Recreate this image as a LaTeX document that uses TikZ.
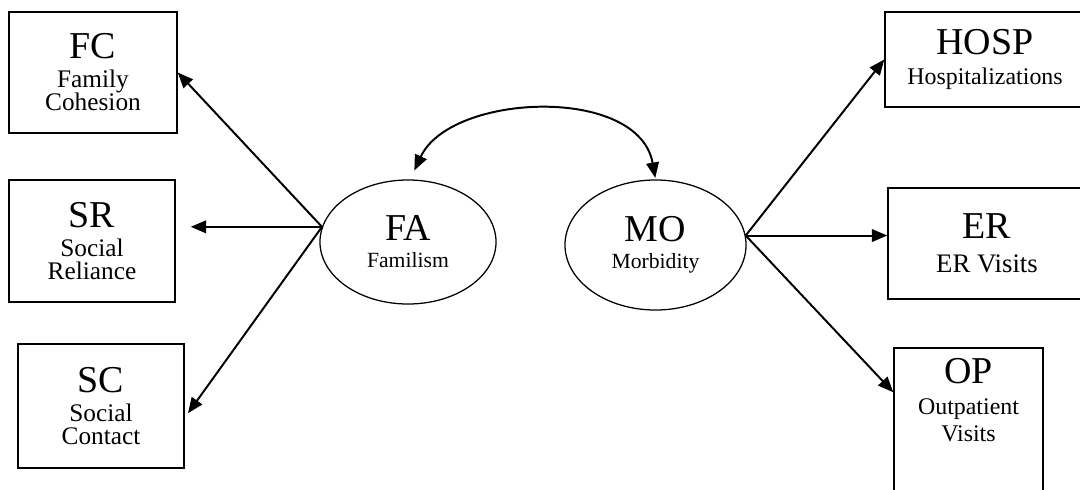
\documentclass[tikz,border=0pt]{standalone}
\usepackage{fontspec}
\setmainfont{Liberation Serif}
\usetikzlibrary{arrows.meta,calc,shapes.geometric}

\newcommand{\abbr}[1]{{\fontsize{27}{27}\selectfont #1}}

\tikzset{
  obsbox/.style={draw, line width=1pt, align=center, inner sep=0pt, font=\fontsize{18}{16.4}\selectfont},
  latent/.style={draw, ellipse, line width=0.9pt, align=center, inner sep=0pt, font=\fontsize{15.4}{19.2}\selectfont},
  load/.style={line width=1.4pt, -{Triangle[length=11pt,width=9pt]}},
  corr/.style={line width=1.4pt, {Triangle[length=11pt,width=9pt]}-{Triangle[length=11pt,width=9pt]}},
}

\begin{document}
\begin{tikzpicture}[x=0.025cm, y=0.025cm]
  \useasboundingbox (0, 0) rectangle (1080, 489);

  \node[obsbox, minimum width=4.2cm, minimum height=3.025cm] (FC) at (93, 416.5) {\abbr{FC}\\[4.2pt]Family\\Cohesion};
  \node[obsbox, minimum width=4.15cm, minimum height=3.05cm] (SR) at (92, 248) {\abbr{SR}\\[4.2pt]Social\\Reliance};
  \node[obsbox, minimum width=4.15cm, minimum height=3.1cm] (SC) at (101, 83) {\abbr{SC}\\[4.2pt]Social\\Contact};

  \node[latent, minimum width=4.4cm, minimum height=3.1cm] (FA) at (408, 247) {\abbr{FA}\\Familism};
  \node[latent, minimum width=4.525cm, minimum height=3.25cm] (MO) at (655.5, 244) {\abbr{MO}\\Morbidity};

  \node[obsbox, font=\fontsize{17}{21.3}\selectfont, minimum width=5cm, minimum height=2.375cm] (HOSP) at (985, 429.5) {\abbr{HOSP}\\Hospitalizations};
  \node[obsbox, font=\fontsize{19}{24}\selectfont, minimum width=4.95cm, minimum height=2.775cm] (ER) at (987, 245.5) {\abbr{ER}\\ER Visits};
  \node[obsbox, minimum width=3.725cm, minimum height=5cm,
    label={[anchor=north, align=center, font=\fontsize{17}{19.2}\selectfont, yshift=-4pt]north:\abbr{OP}\\[3.5pt]Outpatient\\Visits}] (OP) at (968.5, 41) {};

  \draw[load] (FA.170) -- (FC.east);
  \draw[load, shorten >=10.7pt] (FA.170) -- (FA.170 -| SR.east);
  \draw[load, shorten >=4pt] (FA.170) -- (SC.-8);

  \draw[load] (MO.6) -- (HOSP.west);
  \draw[load] (MO.6) -- (MO.6 -| ER.west);
  \draw[load] (MO.6) -- ($(OP.north west)+(0,-45)$);

  \draw[corr, shorten <=7pt, shorten >=1pt] (FA.88) to[out=65, in=100] (MO.north);
\end{tikzpicture}
\end{document}
